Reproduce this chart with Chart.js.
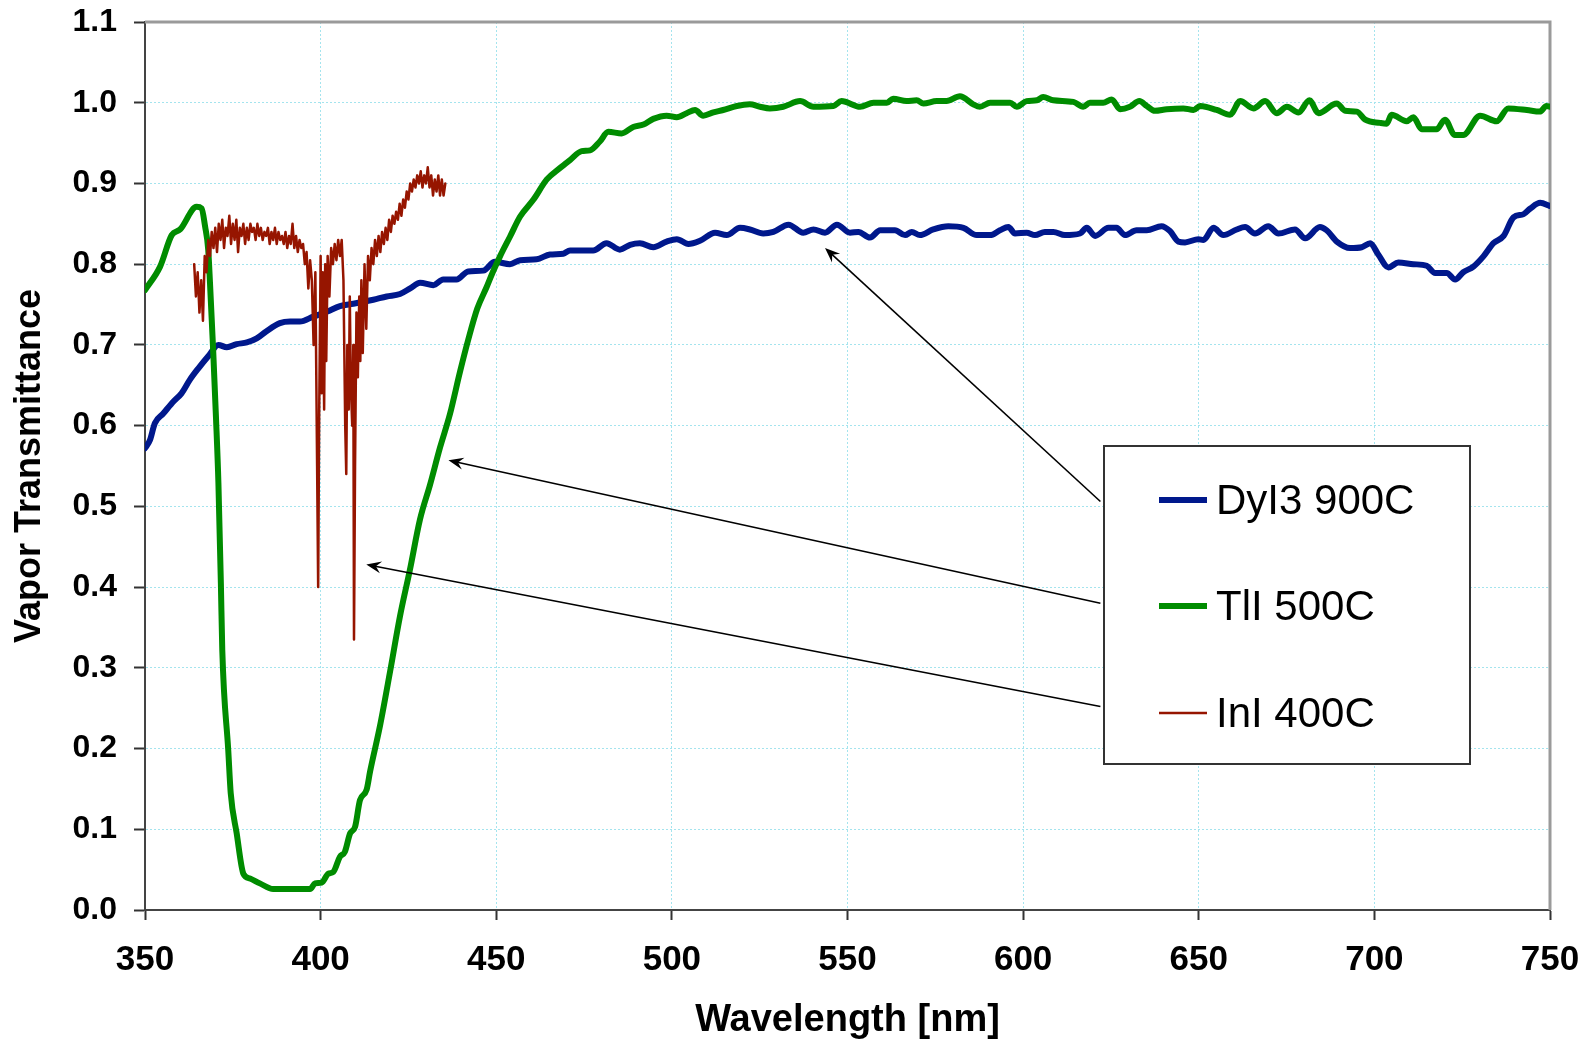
<!DOCTYPE html>
<html>
<head>
<meta charset="utf-8">
<title>Vapor Transmittance</title>
<script src="https://cdn.jsdelivr.net/npm/chart.js@4.4.1/dist/chart.umd.min.js"></script>
<style>
  html, body { margin: 0; padding: 0; background: #fff; }
  .chart-container { width: 1583px; height: 1044px; }
</style>
</head>
<body>
<div class="chart-container">
  <canvas id="chartCanvas" width="1583" height="1044"></canvas>
</div>
<script>
// DyI3 900C
const dyWavelength = [
  350.0, 351.4, 352.8, 355.2, 358.1, 360.4, 362.8, 365.2, 368.0, 370.9,
  373.3, 376.1, 379.0, 381.8, 384.6, 388.4, 391.3, 394.1, 397.9, 401.7,
  405.5, 409.3, 415.0, 418.8, 422.6, 425.5, 428.3, 432.1, 434.9, 438.7,
  442.0, 446.3, 449.6, 453.9, 456.8, 461.5, 465.3, 469.1, 471.0, 477.6,
  481.4, 485.2, 488.1, 490.9, 494.7, 498.5, 501.4, 504.7, 508.0, 512.3,
  515.6, 519.4, 522.2, 526.0, 528.9, 533.2, 537.4, 540.3, 543.6, 547.0,
  550.7, 553.1, 556.4, 559.3, 563.5, 566.4, 568.3, 570.6, 574.4, 578.7,
  583.0, 586.8, 590.6, 593.4, 595.8, 597.7, 601.0, 603.4, 606.2, 608.6,
  611.9, 616.2, 618.1, 620.5, 624.3, 626.6, 629.0, 632.3, 635.2, 639.4,
  641.8, 644.2, 646.1, 649.9, 651.3, 654.2, 657.0, 660.8, 663.2, 666.0,
  669.8, 672.7, 677.4, 680.3, 684.5, 686.4, 689.3, 693.1, 696.4, 698.8,
  701.1, 704.0, 706.8, 711.1, 714.9, 717.3, 720.6, 723.0, 725.3, 728.2,
  731.1, 733.9, 736.8, 739.6, 742.5, 744.4, 747.2, 750.0
];
const dyTransmittance = [
  0.572, 0.582, 0.603, 0.615, 0.630, 0.640, 0.657, 0.671, 0.686, 0.700,
  0.697, 0.701, 0.703, 0.708, 0.717, 0.727, 0.729, 0.729, 0.735, 0.741,
  0.748, 0.751, 0.756, 0.760, 0.763, 0.770, 0.777, 0.774, 0.781, 0.781,
  0.791, 0.792, 0.803, 0.800, 0.805, 0.806, 0.812, 0.813, 0.817, 0.817,
  0.826, 0.818, 0.824, 0.826, 0.821, 0.828, 0.831, 0.825, 0.829, 0.839,
  0.836, 0.845, 0.843, 0.838, 0.840, 0.849, 0.839, 0.843, 0.839, 0.849,
  0.839, 0.840, 0.833, 0.842, 0.842, 0.836, 0.840, 0.836, 0.843, 0.847,
  0.845, 0.836, 0.836, 0.842, 0.846, 0.838, 0.839, 0.836, 0.840, 0.840,
  0.836, 0.838, 0.845, 0.835, 0.845, 0.845, 0.836, 0.842, 0.842, 0.847,
  0.841, 0.828, 0.827, 0.831, 0.830, 0.845, 0.836, 0.843, 0.846, 0.838,
  0.847, 0.838, 0.843, 0.832, 0.846, 0.842, 0.828, 0.820, 0.821, 0.826,
  0.812, 0.796, 0.802, 0.800, 0.798, 0.789, 0.789, 0.781, 0.790, 0.797,
  0.810, 0.826, 0.835, 0.858, 0.862, 0.869, 0.876, 0.872
];

// TlI 500C
const tlWavelength = [
  350.0, 354.3, 357.6, 360.0, 364.7, 366.1, 367.1, 368.0, 368.5, 369.4,
  370.2, 370.9, 371.6, 372.0, 373.7, 374.4, 376.1, 378.0, 379.9, 382.7,
  386.5, 391.3, 397.0, 398.4, 400.3, 402.2, 403.6, 405.5, 406.9, 408.4,
  409.8, 411.2, 413.1, 414.1, 416.9, 419.8, 422.6, 425.4, 428.3, 431.1,
  434.0, 436.8, 439.7, 442.0, 444.6, 447.3, 449.0, 451.1, 453.9, 456.8,
  460.6, 464.4, 468.1, 471.0, 474.3, 476.7, 479.5, 481.9, 485.7, 489.0,
  491.9, 494.7, 498.5, 501.4, 504.2, 506.6, 508.9, 511.8, 514.6, 518.5,
  522.2, 525.1, 527.9, 531.7, 536.5, 540.3, 546.0, 548.3, 553.6, 557.4,
  561.2, 563.0, 566.8, 569.7, 571.6, 575.4, 578.2, 582.0, 585.8, 587.7,
  590.6, 596.3, 598.2, 601.0, 603.9, 605.7, 608.6, 614.3, 617.1, 619.0,
  622.8, 625.2, 627.6, 630.4, 633.1, 635.2, 637.5, 640.9, 645.6, 648.5,
  650.4, 655.1, 658.9, 661.8, 665.6, 668.9, 672.2, 675.1, 678.4, 681.5,
  684.1, 689.3, 691.7, 695.0, 697.4, 701.6, 703.5, 704.9, 709.2, 711.1,
  713.5, 717.7, 720.1, 722.9, 725.3, 730.1, 734.8, 738.1, 743.4, 747.1,
  749.0, 750.0
];
const tlTransmittance = [
  0.768, 0.797, 0.836, 0.843, 0.871, 0.869, 0.847, 0.818, 0.777, 0.694,
  0.611, 0.529, 0.405, 0.322, 0.198, 0.145, 0.095, 0.045, 0.039, 0.033,
  0.026, 0.026, 0.026, 0.033, 0.034, 0.045, 0.047, 0.066, 0.072, 0.095,
  0.103, 0.136, 0.149, 0.172, 0.228, 0.296, 0.364, 0.421, 0.484, 0.526,
  0.573, 0.614, 0.667, 0.706, 0.745, 0.772, 0.790, 0.810, 0.834, 0.859,
  0.880, 0.905, 0.919, 0.929, 0.940, 0.941, 0.952, 0.964, 0.962, 0.970,
  0.973, 0.980, 0.984, 0.982, 0.987, 0.991, 0.984, 0.988, 0.991, 0.996,
  0.998, 0.995, 0.993, 0.995, 1.002, 0.995, 0.996, 1.002, 0.995, 1.000,
  1.000, 1.005, 1.002, 1.003, 0.999, 1.002, 1.002, 1.008, 0.998, 0.995,
  1.000, 1.000, 0.995, 1.002, 1.003, 1.007, 1.003, 1.001, 0.995, 1.000,
  1.000, 1.004, 0.992, 0.995, 1.002, 0.996, 0.990, 0.992, 0.993, 0.991,
  0.996, 0.991, 0.985, 1.002, 0.993, 1.002, 0.987, 0.995, 0.988, 1.003,
  0.987, 0.999, 0.990, 0.989, 0.979, 0.975, 0.974, 0.985, 0.977, 0.982,
  0.967, 0.967, 0.979, 0.960, 0.960, 0.984, 0.977, 0.993, 0.991, 0.989,
  0.996, 0.995
];

// InI 400C
const inWavelength = [
  364.0, 364.5, 365.0, 365.5, 366.0, 366.5, 367.0, 367.5, 368.0, 368.5,
  369.0, 369.5, 370.0, 370.5, 371.0, 371.5, 372.0, 372.5, 373.0, 373.5,
  374.0, 374.5, 375.0, 375.5, 376.0, 376.5, 377.0, 377.5, 378.0, 378.5,
  379.0, 379.5, 380.0, 380.5, 381.0, 381.5, 382.0, 382.5, 383.0, 383.5,
  384.0, 384.5, 385.0, 385.5, 386.0, 386.5, 387.0, 387.5, 388.0, 388.5,
  389.0, 389.5, 390.0, 390.5, 391.0, 391.5, 392.0, 392.5, 393.0, 393.5,
  394.0, 394.5, 395.0, 395.5, 396.0, 396.5, 397.0, 397.5, 398.0, 398.5,
  399.0, 399.3, 399.6, 400.0, 400.3, 400.6, 401.0, 401.3, 401.6, 402.0,
  402.5, 403.0, 403.5, 404.0, 404.5, 405.0, 405.5, 406.0, 406.5, 407.0,
  407.3, 407.6, 408.0, 408.3, 408.6, 409.0, 409.3, 409.5, 409.8, 410.2,
  410.6, 411.0, 411.3, 411.6, 412.0, 412.5, 413.0, 413.5, 414.0, 414.5,
  415.0, 415.5, 416.0, 416.5, 417.0, 417.5, 418.0, 418.5, 419.0, 419.5,
  420.0, 420.5, 421.0, 421.5, 422.0, 422.5, 423.0, 423.5, 424.0, 424.5,
  425.0, 425.5, 426.0, 426.5, 427.0, 427.5, 428.0, 428.5, 429.0, 429.5,
  430.0, 430.5, 431.0, 431.5, 432.0, 432.5, 433.0, 433.5, 434.0, 434.5,
  435.0, 435.5
];
const inTransmittance = [
  0.800, 0.760, 0.790, 0.740, 0.780, 0.730, 0.810, 0.790, 0.830, 0.810,
  0.840, 0.820, 0.845, 0.815, 0.850, 0.830, 0.855, 0.820, 0.845, 0.835,
  0.860, 0.825, 0.850, 0.830, 0.855, 0.815, 0.845, 0.835, 0.850, 0.825,
  0.845, 0.830, 0.850, 0.840, 0.845, 0.830, 0.850, 0.835, 0.845, 0.830,
  0.840, 0.835, 0.845, 0.825, 0.840, 0.830, 0.845, 0.825, 0.840, 0.830,
  0.835, 0.825, 0.840, 0.820, 0.835, 0.825, 0.850, 0.820, 0.835, 0.815,
  0.830, 0.820, 0.825, 0.800, 0.815, 0.770, 0.805, 0.780, 0.700, 0.790,
  0.550, 0.400, 0.620, 0.810, 0.640, 0.790, 0.620, 0.800, 0.680, 0.810,
  0.760, 0.820, 0.800, 0.825, 0.805, 0.830, 0.810, 0.830, 0.780, 0.600,
  0.540, 0.700, 0.620, 0.760, 0.650, 0.600, 0.700, 0.335, 0.550, 0.740,
  0.660, 0.760, 0.680, 0.780, 0.690, 0.800, 0.720, 0.810, 0.780, 0.820,
  0.800, 0.830, 0.810, 0.835, 0.815, 0.840, 0.825, 0.845, 0.830, 0.855,
  0.840, 0.860, 0.850, 0.865, 0.855, 0.875, 0.860, 0.880, 0.870, 0.890,
  0.880, 0.900, 0.890, 0.905, 0.895, 0.910, 0.900, 0.915, 0.895, 0.910,
  0.900, 0.920, 0.895, 0.910, 0.885, 0.905, 0.890, 0.910, 0.885, 0.905,
  0.885, 0.900
];

const seriesLabels = ['DyI3 900C', 'TlI 500C', 'InI 400C'];

// callout arrows: [from wavelength, from value] -> [to wavelength, to value]
const arrowFrom = [[622.0, 0.506], [622.0, 0.380], [622.0, 0.252]];
const arrowTo = [[543.6, 0.820], [436.4, 0.557], [413.0, 0.428]];

const pairs = (xs, ys) => xs.map((x, i) => ({ x: x, y: ys[i] }));

const FONT = "'Liberation Sans', Arial, Helvetica, sans-serif";
Chart.defaults.font.family = FONT;
Chart.defaults.color = '#000';

function drawArrow(ctx, x0, y0, x1, y1) {
  const ang = Math.atan2(y1 - y0, x1 - x0);
  const len = 15, half = 6;
  ctx.beginPath();
  ctx.moveTo(x0, y0);
  ctx.lineTo(x1 - Math.cos(ang) * len * 0.6, y1 - Math.sin(ang) * len * 0.6);
  ctx.stroke();
  ctx.save();
  ctx.translate(x1, y1);
  ctx.rotate(ang);
  ctx.beginPath();
  ctx.moveTo(0, 0);
  ctx.lineTo(-len, -half);
  ctx.lineTo(-len * 0.65, 0);
  ctx.lineTo(-len, half);
  ctx.closePath();
  ctx.fill();
  ctx.restore();
}

const frame = {
  id: 'frame',
  beforeDatasetsDraw(chart) {
    const { ctx, chartArea: a } = chart;
    ctx.save();
    ctx.strokeStyle = '#9a9a9a';
    ctx.lineWidth = 3;
    ctx.beginPath();
    ctx.moveTo(a.left, a.top);
    ctx.lineTo(a.right, a.top);
    ctx.lineTo(a.right, a.bottom);
    ctx.stroke();
    ctx.restore();
  }
};

const callouts = {
  id: 'callouts',
  afterDatasetsDraw(chart) {
    const { ctx, chartArea: a, scales: { x, y } } = chart;
    ctx.save();

    // arrows
    ctx.strokeStyle = '#000';
    ctx.fillStyle = '#000';
    ctx.lineWidth = 1.6;
    arrowFrom.forEach((f, i) => {
      const t = arrowTo[i];
      drawArrow(ctx, x.getPixelForValue(f[0]), y.getPixelForValue(f[1]),
        x.getPixelForValue(t[0]), y.getPixelForValue(t[1]));
    });

    // legend box
    const bx = a.left + 959, by = a.top + 424, bw = 366, bh = 318;
    ctx.fillStyle = '#fff';
    ctx.fillRect(bx, by, bw, bh);
    ctx.strokeStyle = '#333';
    ctx.lineWidth = 2;
    ctx.strokeRect(bx, by, bw, bh);

    const rowY = [54, 160, 267];
    ctx.font = '42px ' + FONT;
    ctx.textBaseline = 'middle';
    ctx.textAlign = 'left';
    chart.data.datasets.forEach((ds, i) => {
      const yy = by + rowY[i];
      ctx.strokeStyle = ds.borderColor;
      ctx.lineWidth = ds.borderWidth;
      ctx.beginPath();
      ctx.moveTo(bx + 55, yy);
      ctx.lineTo(bx + 103, yy);
      ctx.stroke();
      ctx.fillStyle = '#000';
      ctx.fillText(ds.label, bx + 112, yy + 2);
    });
    ctx.restore();
  }
};

const ctx = document.getElementById('chartCanvas').getContext('2d');
new Chart(ctx, {
  type: 'line',
  data: {
    datasets: [
      {
        label: seriesLabels[0],
        data: pairs(dyWavelength, dyTransmittance),
        borderColor: '#00188c',
        borderWidth: 6,
        cubicInterpolationMode: 'monotone',
        order: 3
      },
      {
        label: seriesLabels[1],
        data: pairs(tlWavelength, tlTransmittance),
        borderColor: '#008c00',
        borderWidth: 6,
        cubicInterpolationMode: 'monotone',
        order: 2
      },
      {
        label: seriesLabels[2],
        data: pairs(inWavelength, inTransmittance),
        borderColor: '#961500',
        borderWidth: 2.5,
        tension: 0,
        order: 1
      }
    ]
  },
  options: {
    responsive: false,
    animation: false,
    events: [],
    layout: { padding: { top: 22, right: 33, left: 0, bottom: 0 } },
    elements: {
      point: { radius: 0 },
      line: { fill: false, borderJoinStyle: 'round', borderCapStyle: 'round' }
    },
    scales: {
      x: {
        type: 'linear',
        min: 350,
        max: 750,
        afterFit: (scale) => {
          scale.height = 134;
          scale.paddingLeft = 0;
          scale.paddingRight = 0;
        },
        ticks: {
          stepSize: 50,
          padding: 19,
          maxRotation: 0,
          font: { size: 35, weight: 'bold' }
        },
        grid: {
          color: '#a4e4ee',
          lineWidth: 1,
          tickColor: '#333',
          tickLength: 10,
          tickWidth: 2
        },
        border: { color: '#444', width: 2, dash: [2, 2] },
        title: {
          display: true,
          text: 'Wavelength [nm]',
          font: { size: 38, weight: 'bold' },
          padding: { top: 0, bottom: 1 }
        }
      },
      y: {
        min: 0,
        max: 1.1,
        afterFit: (scale) => {
          scale.width = 145;
          scale.paddingTop = 0;
          scale.paddingBottom = 0;
        },
        ticks: {
          stepSize: 0.1,
          padding: 17,
          font: { size: 32, weight: 'bold' },
          callback: (v) => Number(v).toFixed(1)
        },
        grid: {
          color: '#a4e4ee',
          lineWidth: 1,
          tickColor: '#333',
          tickLength: 11,
          tickWidth: 2
        },
        border: { color: '#444', width: 2, dash: [2, 2] },
        title: {
          display: true,
          text: 'Vapor Transmittance',
          font: { size: 36, weight: 'bold' },
          padding: { top: 8, bottom: 0 }
        }
      }
    },
    plugins: {
      legend: { display: false },
      tooltip: { enabled: false }
    }
  },
  plugins: [frame, callouts]
});
</script>
</body>
</html>
